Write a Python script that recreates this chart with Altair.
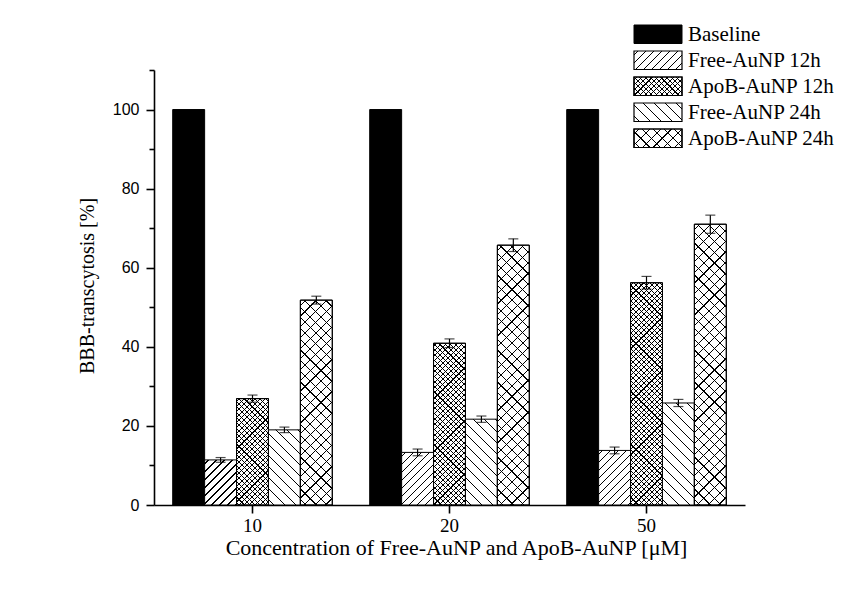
import altair as alt
import pandas as pd

# ---------------- data ----------------
groups = ["10", "20", "50"]
series = ["Baseline", "Free-AuNP 12h", "ApoB-AuNP 12h", "Free-AuNP 24h", "ApoB-AuNP 24h"]
baseline = [100, 100, 100]
free12 = [11.4, 13.3, 13.8]
free12_err = [0.6, 0.85, 0.85]
apob12 = [26.9, 40.9, 56.2]
apob12_err = [0.9, 1.1, 1.6]
free24 = [19.0, 21.7, 25.8]
free24_err = [0.7, 0.8, 0.9]
apob24 = [51.8, 65.7, 71.0]
apob24_err = [1.0, 1.6, 2.3]
y_ticks = list(range(0, 111, 10))

values = {"Baseline": baseline, "Free-AuNP 12h": free12, "ApoB-AuNP 12h": apob12,
          "Free-AuNP 24h": free24, "ApoB-AuNP 24h": apob24}
errors = {"Baseline": [0, 0, 0], "Free-AuNP 12h": free12_err, "ApoB-AuNP 12h": apob12_err,
          "Free-AuNP 24h": free24_err, "ApoB-AuNP 24h": apob24_err}

rows = []
for s in series:
    for i, g in enumerate(groups):
        v, e = values[s][i], errors[s][i]
        rows.append({"group": g, "series": s, "value": v, "err": e, "lo": v - e, "hi": v + e})
df = pd.DataFrame(rows)
df_err = df[df["series"] != "Baseline"]
legend_df = pd.DataFrame({"series": series})

# ---------------- layout / style ----------------
W_PLOT, H_PLOT = 591, 435
Y_MAX = 110
PAD_IN, PAD_OUT = 0.19, 0.095
STEP = W_PLOT / (len(groups) - PAD_IN + 2 * PAD_OUT)
BAR_W = STEP * (1 - PAD_IN) / len(series)
SERIF = "Liberation Serif"
SANS = "Liberation Sans"

# hatch styles: (direction(s), horizontal period px, line width px)
styles = {
    "Free-AuNP 12h": (["/"], 8.0, 1.2),
    "ApoB-AuNP 12h": (["/", "\\"], 5.3, 1.1),
    "Free-AuNP 24h": (["\\"], 11.0, 1.2),
    "ApoB-AuNP 24h": (["/", "\\"], 10.7, 1.2),
}


def hatch(W, H, period, lw, direction, bg, fg="#000000"):
    k = (W + H) / (W * W + H * H)
    if direction == "/":
        x1, y1, x2, y2 = 0, 0, W * k, H * k
    else:
        x1, y1, x2, y2 = 0, 1, W * k, 1 - H * k
    total = W + H
    stops = [alt.GradientStop(offset=0, color=bg)]
    c = period / 2
    while c - lw / 2 < total:
        a = max(0.0, (c - lw / 2) / total)
        b = min(1.0, (c + lw / 2) / total)
        stops += [alt.GradientStop(offset=a, color=bg), alt.GradientStop(offset=a, color=fg),
                  alt.GradientStop(offset=b, color=fg), alt.GradientStop(offset=b, color=bg)]
        c += period
    stops.append(alt.GradientStop(offset=1, color=bg))
    return alt.LinearGradient(gradient="linear", stops=stops, x1=x1, y1=y1, x2=x2, y2=y2)


x_enc = alt.X("group:N", scale=alt.Scale(domain=groups, paddingInner=PAD_IN, paddingOuter=PAD_OUT),
              axis=alt.Axis(title="Concentration of Free-AuNP and ApoB-AuNP [μM]", labelAngle=0,
                            domainColor="black", domainWidth=1.6, tickColor="black", tickWidth=1.6,
                            tickSize=8, labelFont=SERIF, labelFontSize=19, labelColor="black",
                            labelBaseline="alphabetic", labelPadding=18,
                            titleFont=SERIF, titleFontSize=22, titleFontWeight="normal",
                            titleColor="black", titleBaseline="alphabetic", titleY=49,
                            titleX=302, grid=False))
xo_enc = alt.XOffset("series:N", scale=alt.Scale(domain=series, paddingInner=0, paddingOuter=0))
y_axis = alt.Axis(title="BBB-transcytosis [%]", values=y_ticks,
                  labelExpr="datum.value % 20 === 0 && datum.value <= 100 ? datum.label : ''",
                  tickSize={"condition": {"test": "datum.value % 20 === 0", "value": 8}, "value": 5},
                  domainColor="black", domainWidth=1.6, tickColor="black", tickWidth=1.6,
                  labelFont=SANS, labelFontSize=16, labelColor="black", labelPadding=7,
                  titleFont=SERIF, titleFontSize=20, titleFontWeight="normal", titleColor="black",
                  titleX=-61, titleY=H_PLOT / 2 - 2, titleBaseline="alphabetic", grid=False)
y_scale = alt.Scale(domain=[0, Y_MAX], nice=False)

layers = []
base = alt.Chart(df)

# baseline solid bars
layers.append(base.transform_filter(alt.datum.series == "Baseline").mark_bar(
    fill="black", stroke="black", strokeWidth=1).encode(
    x=x_enc, xOffset=xo_enc, y=alt.Y("value:Q", scale=y_scale, axis=y_axis)))

# hatched bars, one layer per bar so each gradient fits its own box
for s in series[1:]:
    dirs, period, lw = styles[s]
    for i, g in enumerate(groups):
        v = values[s][i]
        H = v / Y_MAX * H_PLOT
        sel = base.transform_filter((alt.datum.series == s) & (alt.datum.group == g))
        enc = dict(x=x_enc, xOffset=xo_enc, y=alt.Y("value:Q", scale=y_scale, axis=y_axis))
        layers.append(sel.mark_bar(fill=hatch(BAR_W, H, period, lw, dirs[0], "#ffffff"),
                                   stroke="black", strokeWidth=1).encode(**enc))
        for d in dirs[1:]:
            layers.append(sel.mark_bar(fill=hatch(BAR_W, H, period, lw, d, "rgba(255,255,255,0)"),
                                       stroke="black", strokeWidth=1).encode(**enc))

# error bars
eb = alt.Chart(df_err)
layers.append(eb.mark_rule(color="black", strokeWidth=1.2).encode(
    x=x_enc, xOffset=xo_enc, y=alt.Y("lo:Q", scale=y_scale, axis=y_axis), y2="hi:Q"))
layers.append(eb.mark_tick(color="black", thickness=1.2, size=10).encode(
    x=x_enc, xOffset=xo_enc, y=alt.Y("lo:Q", scale=y_scale, axis=y_axis)))
layers.append(eb.mark_tick(color="black", thickness=1.2, size=10).encode(
    x=x_enc, xOffset=xo_enc, y=alt.Y("hi:Q", scale=y_scale, axis=y_axis)))

# legend (drawn manually)
LX0, LX1 = 480, 528
LY0, LSTEP, LH = -45, 26, 18.5
lg = alt.Chart(legend_df)
for j, s in enumerate(series):
    top = LY0 + j * LSTEP
    pos = dict(x=alt.value(LX0), x2=alt.value(LX1), y=alt.value(top), y2=alt.value(top + LH))
    sel = lg.transform_filter(alt.datum.series == s)
    if s == "Baseline":
        layers.append(sel.mark_rect(fill="black", stroke="black", strokeWidth=1).encode(**pos))
    else:
        dirs, period, lw = styles[s]
        layers.append(sel.mark_rect(fill=hatch(LX1 - LX0, LH, period, lw, dirs[0], "#ffffff"),
                                    stroke="black", strokeWidth=1.2).encode(**pos))
        for d in dirs[1:]:
            layers.append(sel.mark_rect(fill=hatch(LX1 - LX0, LH, period, lw, d, "rgba(255,255,255,0)"),
                                        stroke="black", strokeWidth=1.2).encode(**pos))
    layers.append(sel.mark_text(align="left", baseline="alphabetic", font=SERIF, fontSize=21,
                                color="black").encode(
        x=alt.value(LX1 + 6), y=alt.value(top + 16), text="series:N"))

chart = alt.layer(*layers).properties(
    width=W_PLOT, height=H_PLOT,
    padding={"left": 146, "top": 62, "right": 112, "bottom": 93},
    autosize=alt.AutoSizeParams(type="none"),
    background="white",
).configure_view(stroke=None)

chart.save("out.html", embed_options={"renderer": "svg", "actions": False})
